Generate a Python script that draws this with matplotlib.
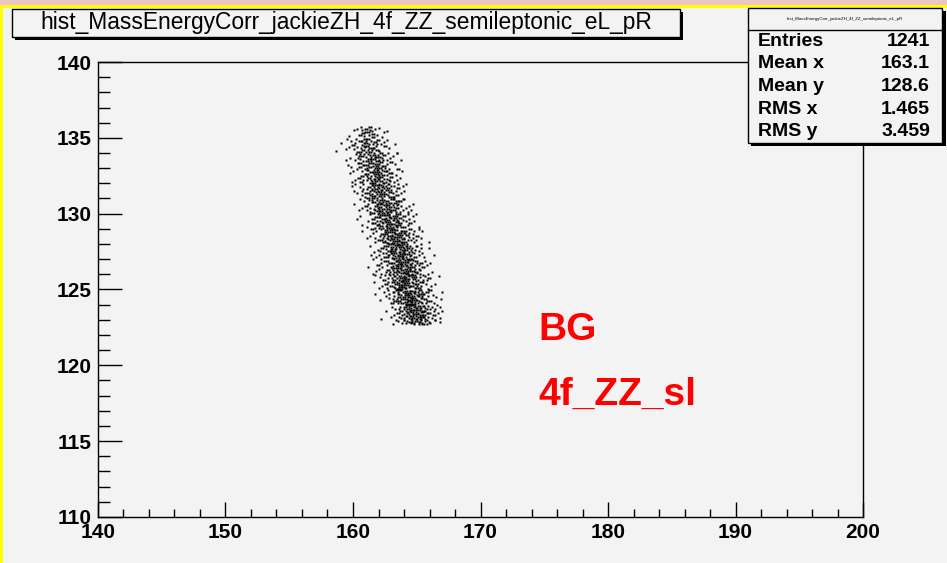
import numpy as np
import matplotlib
matplotlib.use("Agg")
import matplotlib.pyplot as plt
from matplotlib.patches import Rectangle
from matplotlib.lines import Line2D
from matplotlib.ticker import MultipleLocator

# ---------------- data (2D histogram counts) ----------------
title = "hist_MassEnergyCorr_jackieZH_4f_ZZ_semileptonic_eL_pR"
x_edges = [158.5 + 0.5 * i for i in range(18)]          # 158.5 ... 167.0
y_edges = [122.7, 123, 124, 125, 126, 127, 128, 129, 130, 131, 132, 133, 134, 135, 135.7]
# rows from bottom (y 122.7-123) to top (y 135-135.7); columns follow x_edges
counts = [
    [0, 0, 0, 0, 0, 0, 0, 0, 0, 1, 2, 4, 7, 7, 4, 2, 1],
    [0, 0, 0, 0, 0, 0, 0, 1, 2, 5, 10, 19, 23, 22, 14, 9, 5],
    [0, 0, 0, 0, 0, 0, 1, 2, 5, 10, 17, 25, 24, 17, 10, 5, 2],
    [0, 0, 0, 0, 0, 0, 2, 4, 9, 15, 24, 23, 17, 11, 6, 3, 1],
    [0, 0, 0, 0, 0, 1, 3, 6, 11, 17, 23, 21, 15, 9, 4, 2, 0],
    [0, 0, 0, 0, 0, 2, 4, 8, 14, 21, 22, 17, 11, 6, 2, 1, 0],
    [0, 0, 0, 0, 1, 3, 6, 11, 17, 22, 19, 13, 8, 4, 1, 0, 0],
    [0, 0, 0, 1, 2, 5, 10, 16, 21, 20, 13, 7, 4, 1, 0, 0, 0],
    [0, 0, 0, 2, 4, 8, 13, 20, 20, 14, 8, 4, 2, 0, 0, 0, 0],
    [0, 0, 1, 3, 7, 12, 18, 20, 15, 8, 4, 2, 0, 0, 0, 0, 0],
    [0, 0, 2, 4, 9, 14, 19, 17, 11, 6, 3, 0, 0, 0, 0, 0, 0],
    [0, 1, 3, 6, 11, 17, 18, 12, 7, 4, 1, 0, 0, 0, 0, 0, 0],
    [1, 2, 4, 8, 13, 15, 11, 6, 3, 2, 0, 0, 0, 0, 0, 0, 0],
    [0, 0, 1, 3, 8, 9, 5, 3, 1, 0, 0, 0, 0, 0, 0, 0, 0],
]
stats_labels = ["Entries", "Mean x", "Mean y", "RMS x", "RMS y"]
stats_values = ["1241", "163.1", "128.6", "1.465", "3.459"]
annot = ["BG", "4f_ZZ_sl"]
x_range = (140, 200)
y_range = (110, 140)

# ---------------- figure ----------------
W, H = 947, 563
BG = "#f3f3f3"
fig = plt.figure(figsize=(W / 100, H / 100), dpi=100, facecolor=BG)

def fx(px):
    return px / W

def fy(py):
    return 1 - py / H

def frect(x0, y0, x1, y1, **kw):
    return Rectangle((fx(x0), fy(y1)), fx(x1) - fx(x0), fy(y0) - fy(y1),
                     transform=fig.transFigure, **kw)

# decorative border strips
fig.patches.append(frect(0, 0, W, 5, facecolor="#e9c7c8", edgecolor="none", zorder=0))
fig.patches.append(frect(0, 5, W, 8, facecolor="#ffff00", edgecolor="none", zorder=0))
fig.patches.append(frect(0, 5, 3, H, facecolor="#ffff00", edgecolor="none", zorder=0))

ax = fig.add_axes([fx(98), fy(517), fx(863) - fx(98), fy(62) - fy(517)])
ax.set_facecolor(BG)
ax.set_xlim(*x_range)
ax.set_ylim(*y_range)

# scatter drawing of the 2D histogram (ROOT "SCAT"-like placement inside bins)
a1, a2 = 0.7548776662466927, 0.5698402909980532
xs, ys = [], []
n = 0
for j, row in enumerate(counts):
    y0, y1 = y_edges[j], y_edges[j + 1]
    for i, c in enumerate(row):
        x0, x1 = x_edges[i], x_edges[i + 1]
        for _ in range(c):
            n += 1
            u = (0.5 + n * a1) % 1.0
            v = (0.5 + n * a2) % 1.0
            xs.append(x0 + u * (x1 - x0))
            ys.append(y0 + v * (y1 - y0))
ax.plot(xs, ys, ls="none", marker="s", ms=1.5, mfc="black", mec="none")

# axes style (ROOT-like)
for s in ax.spines.values():
    s.set_linewidth(1.0)
    s.set_color("black")
ax.xaxis.set_major_locator(MultipleLocator(10))
ax.xaxis.set_minor_locator(MultipleLocator(2))
ax.yaxis.set_major_locator(MultipleLocator(5))
ax.yaxis.set_minor_locator(MultipleLocator(1))
ax.tick_params(axis="x", which="major", direction="in", length=11, width=1.0,
               top=False, pad=4.5)
ax.tick_params(axis="x", which="minor", direction="in", length=5.5, width=1.0, top=False)
ax.tick_params(axis="y", which="major", direction="in", length=17, width=1.0,
               right=False, pad=4.5)
ax.tick_params(axis="y", which="minor", direction="in", length=8.5, width=1.0, right=False)
for lab in ax.get_xticklabels() + ax.get_yticklabels():
    lab.set_fontfamily("Liberation Sans")
    lab.set_fontweight("bold")
    lab.set_fontsize(15)

# annotation text
ax.text(0.576, 0.390, annot[0], transform=ax.transAxes, color="#ff0000",
        fontsize=28, fontfamily="Liberation Sans", fontweight="bold", ha="left", va="baseline")
ax.text(0.576, 0.247, annot[1], transform=ax.transAxes, color="#ff0000",
        fontsize=28, fontfamily="Liberation Sans", fontweight="bold", ha="left", va="baseline")

# title box with shadow
fig.patches.append(frect(15, 12, 683, 40, facecolor="black", edgecolor="none", zorder=5))
fig.patches.append(frect(12, 9, 680, 37, facecolor=BG, edgecolor="black", lw=1.0, zorder=6))
fig.text(fx(346), fy(23), title, ha="center", va="center", fontsize=16.4,
         fontfamily="Liberation Sans", zorder=7)

# stats box with shadow
fig.patches.append(frect(751, 11, 946, 146, facecolor="black", edgecolor="none", zorder=5))
fig.patches.append(frect(748, 8, 942, 143, facecolor=BG, edgecolor="black", lw=1.0, zorder=6))
fig.lines.append(Line2D([fx(748), fx(942)], [fy(30), fy(30)], transform=fig.transFigure,
                        color="black", lw=1.0, zorder=7))
fig.text(fx(845), fy(19), title, ha="center", va="center", fontsize=3.2,
         fontfamily="Liberation Sans", zorder=7)
row_y = [42, 64, 86, 110, 131]
for lab, val, py in zip(stats_labels, stats_values, row_y):
    fig.text(fx(758), fy(py), lab, ha="left", va="center", fontsize=14,
             fontweight="bold", fontfamily="Liberation Sans", zorder=7)
    fig.text(fx(930), fy(py), val, ha="right", va="center", fontsize=14,
             fontweight="bold", fontfamily="Liberation Sans", zorder=7)

fig.savefig("out.png", dpi=100, facecolor=BG)
